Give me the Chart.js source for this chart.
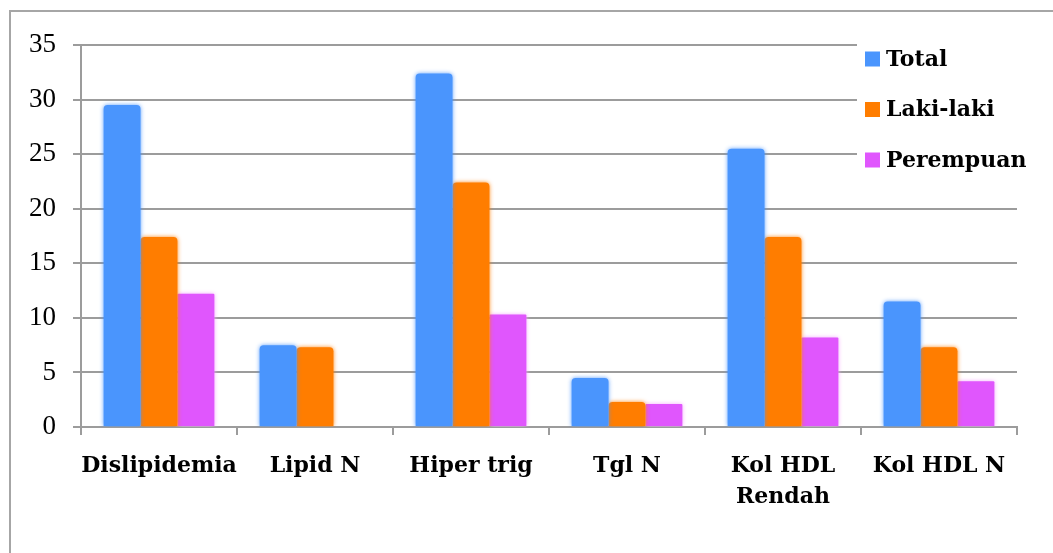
<!DOCTYPE html>
<html>
<head>
<meta charset="utf-8">
<script src="https://cdn.jsdelivr.net/npm/chart.js@4.4.1/dist/chart.umd.min.js"></script>
<style>
  html, body { margin: 0; padding: 0; background: #fff; }
  #wrap { position: relative; width: 1053px; height: 553px; }
  #frame { position: absolute; left: 9px; top: 10px; width: 1060px; height: 560px; border: 2px solid #a6a6a6; box-sizing: border-box; }
  canvas { position: absolute; left: 0; top: 0; }
</style>
</head>
<body>
<div id="wrap">
  <div id="frame"></div>
  <canvas id="c" width="1053" height="553"></canvas>
</div>
<script>
// Categories and series
const categories = ['Dislipidemia', 'Lipid N', 'Hiper trig', 'Tgl N', ['Kol HDL', 'Rendah'], 'Kol HDL N'];
const seriesNames = ['Total', 'Laki-laki', 'Perempuan'];
const totalValues = [29.5, 7.5, 32.4, 4.5, 25.5, 11.5];
const lakiValues = [17.4, 7.3, 22.4, 2.3, 17.4, 7.3];
const perempuanValues = [12.2, 0, 10.3, 2.1, 8.2, 4.2];
const yTicks = [0, 5, 10, 15, 20, 25, 30, 35];

const colors = ['#4a95fd', '#ff7d00', '#e056fd'];
const glowColors = ['rgba(74,149,253,0.9)', 'rgba(255,125,0,0.9)', 'rgba(245,170,255,1)'];

// soft glow around the bars
const glowPlugin = {
  id: 'glow',
  beforeDatasetDraw(chart, args) {
    const ctx = chart.ctx;
    ctx.save();
    ctx.shadowColor = glowColors[args.index];
    ctx.shadowBlur = 4;
  },
  afterDatasetDraw(chart) {
    chart.ctx.restore();
  }
};

// legend box drawn over the top-right corner of the plot
const legendBox = {
  id: 'legendBox',
  afterDatasetsDraw(chart) {
    const ctx = chart.ctx;
    ctx.save();
    ctx.fillStyle = '#ffffff';
    ctx.fillRect(857, 36, 190, 145);
    ctx.font = 'bold 22px "DejaVu Serif"';
    ctx.textBaseline = 'middle';
    ctx.textAlign = 'left';
    chart.data.datasets.forEach((ds, i) => {
      const cy = 59 + i * 50.5;
      ctx.fillStyle = ds.backgroundColor;
      ctx.fillRect(865, cy - 7.5, 15, 15);
      ctx.fillStyle = '#000';
      ctx.fillText(ds.label, 886, cy + 1);
    });
    ctx.restore();
  }
};

const datasetValues = [totalValues, lakiValues, perempuanValues];

new Chart(document.getElementById('c'), {
  type: 'bar',
  data: {
    labels: categories,
    datasets: seriesNames.map((name, i) => ({
      label: name,
      data: datasetValues[i],
      backgroundColor: colors[i],
      borderWidth: 0,
      borderRadius: i === 2 ? 1 : 4,
      barPercentage: 1.0,
      categoryPercentage: 0.71
    }))
  },
  options: {
    responsive: false,
    animation: false,
    devicePixelRatio: 1,
    layout: { padding: { left: 0, right: 36, top: 45, bottom: 0 } },
    plugins: { legend: { display: false }, tooltip: { enabled: false } },
    scales: {
      x: {
        afterFit(scale) { scale.height = 126; },
        grid: { display: true, drawOnChartArea: false, offset: true, tickLength: 8, color: '#9c9c9c', lineWidth: 2 },
        border: { display: true, color: '#9c9c9c', width: 2 },
        ticks: {
          color: '#000',
          font: { family: '"DejaVu Serif"', size: 22, weight: 'bold', lineHeight: 1.4 },
          padding: 16,
          maxRotation: 0,
          autoSkip: false
        }
      },
      y: {
        min: 0,
        max: 35,
        afterFit(scale) { scale.width = 81; },
        afterBuildTicks(scale) { scale.ticks = yTicks.map(v => ({ value: v })); },
        grid: { color: '#9c9c9c', lineWidth: 2, tickLength: 8 },
        border: { display: true, color: '#9c9c9c', width: 2 },
        ticks: {
          color: '#000',
          font: { family: '"Liberation Serif"', size: 27 },
          padding: 17
        }
      }
    }
  },
  plugins: [glowPlugin, legendBox]
});
</script>
</body>
</html>
